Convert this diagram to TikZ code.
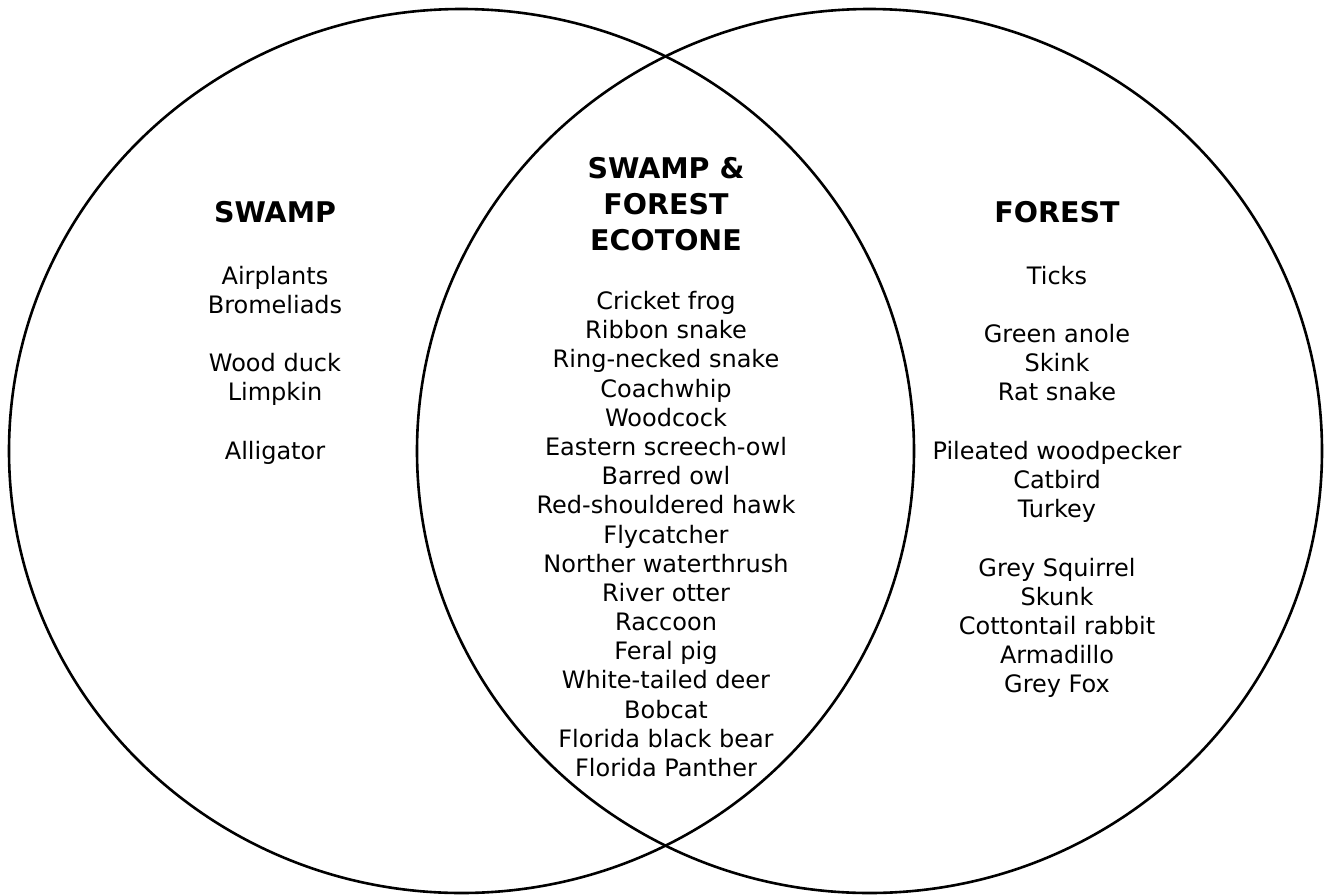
\documentclass[tikz,border=0pt]{standalone}
\usepackage{fontspec}
\setmainfont{DejaVu Sans}
\begin{document}
\begin{tikzpicture}[x=1pt,y=-1pt,
  ring/.style={draw=black,line width=2.6pt},
  head/.style={anchor=base,inner sep=0pt,font=\bfseries\fontsize{28.5}{34}\selectfont},
  item/.style={anchor=base,inner sep=0pt,font=\fontsize{24}{29}\selectfont}]
\useasboundingbox (0,0) rectangle (1326,895);
\draw[ring] (461.5,451) ellipse [x radius=452.5, y radius=442];
\draw[ring] (869.5,451) ellipse [x radius=452.5, y radius=442];
% headings
\node[head] (hs) at (275,222.7) {SWAMP};
\node[head] (hf) at (1057,222.7) {FOREST};
\node[head] (hm1) at (666,178) {SWAMP \&};
\node[head] (hm2) at (666,214) {FOREST};
\node[head] (hm3) at (666,250) {ECOTONE};
% swamp list
\foreach \t/\k [count=\i] in {Airplants/0,Bromeliads/1,Wood duck/3,Limpkin/4,Alligator/6}
  \node[item] (s\i) at (275,284+29.2*\k) {\t};
% middle list
\foreach \t [count=\i from 0] in {Cricket frog,Ribbon snake,Ring-necked snake,Coachwhip,Woodcock,Eastern screech-owl,Barred owl,Red-shouldered hawk,Flycatcher,Norther waterthrush,River otter,Raccoon,Feral pig,White-tailed deer,Bobcat,Florida black bear,Florida Panther}
  \node[item] (m\i) at (666,309.5+29.19*\i) {\t};
% forest list
\foreach \t/\k [count=\i] in {Ticks/0,Green anole/2,Skink/3,Rat snake/4,Pileated woodpecker/6,Catbird/7,Turkey/8,Grey Squirrel/10,Skunk/11,Cottontail rabbit/12,Armadillo/13,Grey Fox/14}
  \node[item] (f\i) at (1057,284+29.2*\k) {\t};
\end{tikzpicture}
\end{document}
